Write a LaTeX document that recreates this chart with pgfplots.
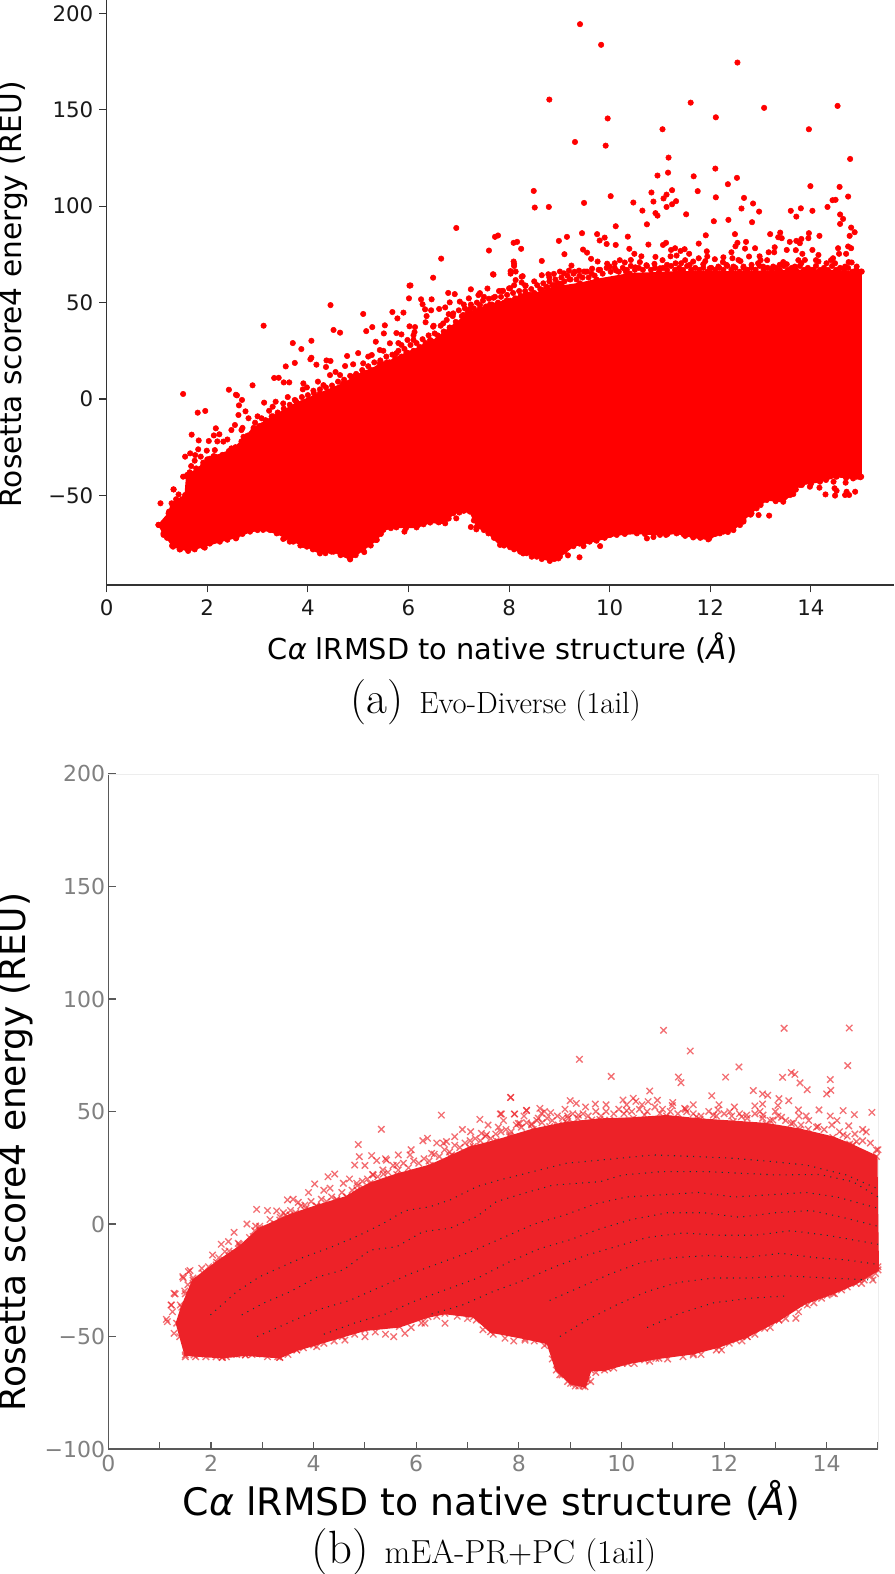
\documentclass[border=0pt]{standalone}
\usepackage{fontspec}
\usepackage{pgfplots}
\usepackage{pgfplotstable}
\pgfplotsset{compat=1.18}
\newfontfamily\dv{DejaVu Sans}
\newcommand\fz[1]{\fontsize{#1}{#1}\selectfont}
\definecolor{bred}{HTML}{ED2228}
\definecolor{bdot}{HTML}{0F3F3A}
\pgfplotstableread{
x y
1.03 -65.3
1.23 -59.3
1.29 -54.1
1.56 -49.8
1.59 -40.0
2.12 -30.0
2.52 -26.0
2.92 -15.0
3.31 -9.0
3.78 -2.0
4.24 3.0
4.70 8.0
5.10 14.0
5.57 19.0
5.96 24.0
6.43 29.0
6.82 37.0
7.22 45.0
7.62 49.0
7.95 51.0
8.42 54.0
8.90 58.0
9.41 60.0
9.74 62.0
10.40 65.0
11.40 66.0
12.72 66.0
14.05 67.0
15.00 66.0
15.00 -40.3
14.84 -41.2
14.51 -40.3
14.18 -42.9
13.78 -44.6
13.59 -49.8
13.45 -53.3
13.12 -52.4
12.92 -56.7
12.66 -62.8
12.46 -68.0
12.19 -69.7
11.96 -72.8
11.66 -71.8
11.33 -69.7
11.00 -70.5
10.54 -69.7
10.14 -70.5
9.74 -73.5
9.28 -76.3
9.01 -81.8
8.81 -84.0
8.55 -81.8
8.22 -79.2
8.02 -76.9
7.82 -75.7
7.59 -69.7
7.36 -66.2
7.22 -58.4
6.89 -59.3
6.73 -64.5
6.43 -64.1
6.16 -66.6
5.76 -66.6
5.50 -67.9
5.37 -73.1
5.10 -78.3
4.84 -83.2
4.51 -79.2
4.24 -80.1
3.98 -76.6
3.71 -74.0
3.38 -69.7
3.11 -67.9
2.85 -68.8
2.58 -71.8
2.25 -74.0
1.92 -76.6
1.62 -78.8
1.32 -76.6
1.13 -69.7
}\coreA
\pgfplotstableread{
x y
1.33 -44.1
1.43 -37.0
1.65 -25.0
2.11 -17.0
2.56 -10.0
2.95 -2.0
3.54 4.0
4.06 8.0
4.64 12.0
4.85 15.0
5.10 18.0
5.62 22.0
6.27 26.0
6.66 30.0
7.04 34.0
7.56 37.0
8.28 42.0
8.93 45.0
9.58 46.5
10.23 47.0
10.88 48.0
11.53 46.5
12.18 45.5
12.82 44.5
13.47 42.0
14.12 38.5
14.45 35.5
14.97 30.0
15.00 -20.4
14.57 -26.4
14.12 -30.8
13.57 -35.3
13.07 -42.7
12.45 -50.0
11.90 -54.5
11.40 -57.5
10.67 -59.7
10.12 -61.9
9.67 -64.9
9.40 -64.9
9.29 -72.3
9.01 -70.8
8.73 -64.9
8.56 -53.0
8.12 -50.8
7.45 -47.9
7.12 -41.2
6.56 -39.7
6.23 -41.2
5.67 -45.6
5.00 -47.1
4.56 -50.0
4.00 -53.8
3.67 -56.0
3.34 -59.3
2.67 -58.2
2.22 -59.3
1.50 -58.2
}\coreB
\begin{document}
\begin{tikzpicture}
\path[use as bounding box] (0,0) rectangle (671.25pt,1180.5pt);
% ---------- panel a
\begin{axis}[
  scale only axis, width=590.5pt, height=438.75pt,
  at={(80pt,741.75pt)}, anchor=south west, clip=false,
  xmin=0, xmax=15.652, ymin=-96.47, ymax=206.95,
  axis lines=left, axis line style={-, line width=1pt, color=black!80},
  tick align=outside, major tick length=5.5pt,
  every tick/.style={line width=0.8pt, color=black!80},
  xtick={0,2,4,6,8,10,12,14}, xticklabels={0,2,4,6,8,10,12,14},
  ytick={-50,0,50,100,150,200}, yticklabels={−50,0,50,100,150,200},
  tick label style={font=\dv\fz{16}, color=black!90},
  x tick label style={yshift=-2pt}, y tick label style={xshift=-1pt},
  xlabel={C{\itshape α} lRMSD to native structure ({\itshape Å})},
  ylabel={Rosetta score4 energy (REU)},
  xlabel style={font=\dv\fz{21.6}, at={(axis description cs:0.503,-0.108)}, anchor=center},
  ylabel style={font=\dv\fz{22.2}, at={(axis description cs:-0.119,0.497)}, anchor=center},
]
\addplot[fill=red, draw=red, line width=1pt] table[x=x,y=y] {\coreA} -- cycle;
\addplot[only marks, mark=*, mark size=2.05pt, mark options={fill=red, draw=none}, color=red] table[x=x,y=y] {\coreA};
\addplot[only marks, mark=*, mark size=2.05pt, mark options={fill=red, draw=none}, color=red] coordinates {
(9.41,194.4)(9.83,183.7)(12.54,174.5)(8.80,155.3)(11.61,153.7)(13.07,151.0)(14.53,152.0)(9.96,145.5)(12.11,146.1)(11.05,139.9)(13.96,139.9)(9.31,133.3)(9.92,131.4)(11.17,125.2)(14.78,124.5)(12.10,119.5)(11.16,117.4)(10.95,115.9)(11.67,115.5)(12.53,114.7)(12.35,111.4)(13.99,110.4)(14.57,110.0)(8.49,107.9)(11.75,107.8)(10.83,107.1)(11.24,108.3)(11.13,106.0)(11.07,104.0)(10.02,105.2)(12.11,104.6)(12.67,104.3)(14.74,105.0)(14.49,103.3)(14.43,103.1)(10.47,101.9)(10.87,102.4)(11.32,102.6)(11.24,101.0)(11.13,99.6)(9.49,101.7)(8.51,99.3)(8.79,99.6)(12.85,101.4)(12.62,98.8)(12.97,97.2)(13.80,98.9)(13.60,97.6)(13.71,94.6)(14.03,97.6)(14.33,99.6)(10.65,97.7)(10.91,96.4)(10.95,95.1)(11.52,95.8)(14.58,95.7)(14.64,93.4)(14.58,90.8)(12.07,92.2)(12.36,92.9)(12.83,91.7)(10.74,90.6)(10.12,89.6)(14.80,88.9)(14.87,86.5)(14.77,84.6)(9.45,86.0)(9.75,85.5)(10.36,84.2)(11.91,84.9)(12.49,85.5)(13.19,85.5)(13.39,86.3)(13.95,83.4)(13.96,86.0)(14.17,84.6)(7.72,84.1)(7.78,84.8)(8.09,81.0)(8.16,81.5)(9.15,84.1)(8.99,82.0)(7.60,77.0)(8.24,77.9)(9.80,82.2)(9.90,83.7)(9.94,80.4)(10.12,79.9)(10.77,80.1)(11.06,79.9)(11.12,81.0)(11.77,80.6)(12.54,81.0)(12.50,79.2)(12.71,81.5)(12.69,78.0)(12.89,78.2)(13.35,83.9)(13.42,83.4)(13.58,81.5)(13.71,82.0)(13.78,80.8)(13.81,83.0)(14.54,78.2)(14.74,79.1)(14.80,78.2)(14.03,77.3)(13.52,77.3)(13.70,77.2)(13.28,78.7)(9.47,77.5)(9.55,75.9)(9.10,75.1)(8.65,71.6)(8.09,71.3)(8.10,70.1)(10.39,77.9)(10.49,75.3)(10.42,72.1)(10.63,74.0)(10.91,73.7)(11.22,77.3)(11.30,78.2)(11.41,76.8)(11.49,77.7)(11.21,74.0)(11.33,74.4)(11.58,75.3)(11.66,71.3)(11.77,73.0)(11.93,76.6)(11.94,73.9)(12.09,72.5)(12.26,73.5)(12.42,76.1)(12.44,73.0)(12.56,72.1)(12.77,73.9)(12.98,74.0)(13.13,72.0)(13.16,76.1)(13.27,76.1)(13.83,75.3)(14.15,74.7)(14.44,73.0)(14.56,75.3)(14.70,75.3)(14.81,70.8)
(7.68,64.7)(8.03,66.3)(8.13,66.1)(8.27,63.7)(8.25,60.4)(8.32,58.8)(8.65,64.2)(8.78,64.7)(8.89,64.9)(9.01,66.1)(9.09,65.2)(9.19,66.6)(9.24,69.2)(9.20,62.1)(9.39,66.6)(9.49,66.1)(9.55,66.1)(9.65,67.6)(9.81,67.0)(9.63,72.7)(9.76,71.3)(9.95,70.2)(10.00,68.7)(10.10,70.4)(10.13,66.6)(10.30,70.8)(10.32,66.1)(10.51,68.3)(10.73,69.4)(10.89,70.1)(11.00,67.8)(11.14,69.6)(11.31,70.4)(11.42,70.4)(11.59,69.6)(11.86,69.9)(11.99,67.8)(12.16,68.7)(12.32,69.6)(12.46,68.7)(12.66,68.7)(12.82,69.6)(12.95,70.4)(13.05,68.7)(13.25,68.7)(13.38,69.6)(13.52,69.9)(13.68,68.7)(13.81,70.4)(13.88,72.1)(14.15,71.3)(14.31,70.4)(14.48,70.4)(14.68,68.7)(14.91,68.7)(15.01,66.1)
(7.57,57.3)(7.42,54.9)(7.88,56.1)(8.02,57.4)(8.23,53.5)(8.33,54.5)(8.52,53.8)(8.65,56.6)(8.76,58.0)(8.91,59.2)(9.04,59.7)
(1.52,2.6)(1.81,-7.1)(1.96,-6.2)(2.43,4.8)(2.57,2.2)(2.59,1.9)(2.69,-0.5)(2.90,7.1)(3.12,38.0)(3.13,-1.9)(2.63,-3.3)(2.76,-6.4)(2.62,-8.3)(3.36,-1.4)(3.23,-6.1)(4.45,48.7)(3.70,29.0)(3.87,25.9)(4.07,30.2)(4.07,21.4)(4.05,20.6)(3.56,16.9)(3.74,18.7)(3.33,10.9)(3.42,11.0)(3.52,8.6)(3.63,8.6)(4.51,35.8)(4.64,34.4)(5.10,44.1)(5.28,37.3)(5.16,35.2)(4.17,17.8)(4.37,20.0)(4.45,19.7)(4.36,16.6)(4.78,22.3)(5.00,23.8)(4.74,17.1)(5.35,29.7)(5.53,38.2)(5.51,34.0)(5.68,45.1)(5.78,41.8)(5.90,44.8)(6.02,37.7)(6.13,37.3)(6.12,34.7)(5.76,34.2)(5.86,33.5)(6.02,58.8)(6.04,58.9)(6.01,52.2)(6.49,62.9)(6.65,72.8)(6.25,51.7)(6.46,51.7)(6.28,49.1)(6.45,46.0)(6.33,46.5)(6.36,43.0)(6.34,39.8)(6.95,88.7)(6.79,55.0)(6.92,54.4)(7.24,56.9)(7.39,53.9)(7.02,50.5)(7.20,52.2)(6.82,50.1)(6.61,46.7)(6.73,47.5)(7.22,46.7)(7.69,52.5)(7.85,56.0)(8.00,57.4)(8.13,61.7)(8.25,63.4)(8.33,58.8)(8.34,54.4)(8.23,53.1)(8.12,52.2)(7.69,64.5)(8.10,69.0)(8.03,65.0)
(1.33,-46.9)(1.43,-49.5)(1.69,-18.5)(1.83,-21.5)(2.17,-15.2)(2.13,-18.9)(2.24,-18.3)(2.03,-21.8)(2.32,-22.1)(1.99,-26.8)(1.82,-26.1)(1.66,-28.2)(1.56,-29.9)(1.76,-29.1)(1.87,-29.9)(2.00,-31.3)(1.68,-34.8)(2.15,-26.5)(2.13,-29.6)(2.27,-29.9)(2.55,-13.5)(2.48,-16.1)(2.68,-16.1)(2.82,-10.0)(2.95,-12.3)(3.08,-10.0)(2.72,-19.6)(2.75,-23.9)(2.48,-25.6)(2.58,-27.3)(2.20,-36.0)(1.92,-34.3)(1.52,-40.3)(1.60,-39.4)(3.31,-10.0)(3.51,-2.3)(3.74,-0.5)(3.91,8.1)(3.98,6.0)(4.11,4.3)(4.31,7.2)(4.44,12.4)(4.64,12.4)(4.80,7.2)(4.87,11.6)(4.99,12.1)(5.10,18.5)(5.27,22.8)(5.43,18.5)(5.43,25.4)(5.63,28.9)(5.76,23.7)(5.86,28.0)(5.98,30.6)(6.10,30.6)(6.30,27.1)(6.43,30.6)(6.49,37.5)(6.69,39.2)(6.89,44.4)(7.09,43.6)(7.42,48.7)(7.75,48.7)(7.95,48.7)(8.28,51.3)
(9.17,-81.1)(9.40,-82.1)(9.81,-76.3)(10.74,-72.3)(10.87,-71.6)(13.17,-60.5)(12.96,-60.2)(14.69,-43.4)(14.17,-46.0)(14.29,-49.5)(14.48,-50.1)(14.51,-47.6)(14.68,-49.8)(14.76,-49.8)(14.88,-48.1)(14.71,-48.1)(14.47,-46.3)(14.98,-40.6)(12.59,-65.4)(12.66,-63.6)(11.98,-72.3)(11.12,-70.5)(9.48,-76.3)(8.45,-81.8)(8.28,-80.1)(8.98,-82.7)(10.01,-70.5)(11.47,-70.2)(11.80,-71.4)(12.26,-68.8)(12.82,-59.3)(13.65,-49.3)(13.82,-44.6)(13.98,-45.5)(14.45,-42.9)(14.91,-40.3)
(1.07,-54.1)(1.33,-46.9)(1.38,-52.0)(1.24,-58.4)(5.12,-79.4)(6.95,-61.9)(6.71,-63.1)(7.24,-66.4)(7.35,-67.6)(7.01,-58.9)(5.92,-68.8)(6.18,-65.5)(3.51,-72.6)(3.31,-66.6)(4.24,-79.2)(4.84,-82.6)(4.47,-79.2)(3.91,-75.7)(3.64,-74.0)(2.57,-72.3)(2.24,-73.1)(1.95,-77.1)(1.46,-78.0)(1.30,-76.1)(1.13,-70.5)(1.03,-65.3)(5.35,-73.1)
(1.65,-38)(1.72,-40)(1.78,-36)(1.85,-37)(1.92,-33)(1.98,-36)(2.05,-31)(2.10,-34)(2.17,-30)(2.24,-33)(2.30,-29)(2.37,-31)(2.43,-27)(2.50,-30)(2.56,-25)(2.62,-29)(2.68,-22)(2.74,-26)(2.80,-19)(2.86,-23)(2.92,-16)(2.98,-19)(3.04,-14)(3.10,-17)(3.16,-11)(3.22,-15)(3.28,-9)(3.34,-12)(3.40,-7)(3.46,-10)(3.52,-5)(3.58,-8)(3.64,-3)(3.70,-6)(3.76,-1)(3.82,-4)(3.88,1)(3.94,-2)(4.00,2)(4.06,-1)(4.12,3)(4.18,1)(4.24,5)(4.30,2)(4.36,6)(4.42,3)(4.48,7)(4.54,5)(4.60,9)(4.66,6)(4.72,10)(4.78,8)(4.84,12)(4.90,9)(4.96,13)(5.02,11)(5.08,15)(5.14,13)(5.20,17)(5.26,15)(5.32,19)(5.38,16)(5.44,20)(5.50,18)(5.56,22)(5.62,19)(5.68,23)(5.74,21)(5.80,25)(5.86,22)(5.92,26)(5.98,24)(6.04,28)(6.10,25)(6.16,29)(6.22,27)(6.28,31)(6.34,29)(6.40,33)(6.46,30)(6.52,34)(6.58,33)(6.64,38)(6.70,35)(6.76,41)(6.82,37)(6.88,43)(6.94,40)(7.00,46)(7.06,43)(7.12,47)(7.18,45)(7.24,49)(7.30,47)(7.36,50)(7.42,47)(7.48,51)(7.54,48)(7.60,52)(7.66,49)(7.72,53)(7.78,50)(7.84,53)(7.90,50)(7.96,54)(8.02,51)(8.08,55)(8.14,52)(8.20,56)(8.26,53)(8.32,56)(8.38,54)(8.44,57)(8.50,55)(8.56,59)(8.62,57)(8.68,60)(8.74,58)(8.80,61)(8.86,59)(8.92,62)(8.98,60)(9.04,63)(9.10,61)(9.16,64)(9.22,62)(9.28,65)(9.34,62)(9.40,64)(9.46,63)(9.52,66)(9.58,63)(9.64,65)(9.70,64)(9.78,67)(9.86,65)(9.94,68)(10.02,66)(10.10,68)(10.18,66)(10.26,68)(10.34,67)(10.42,69)(10.50,67)(10.58,68)(10.66,67)(10.74,69)(10.82,67)(10.90,68)(10.98,66)(11.06,68)(11.14,67)(11.22,69)(11.30,67)(11.38,68)(11.46,67)(11.54,69)(11.62,67)(11.70,68)(11.78,67)(11.86,68)(11.94,66)(12.02,68)(12.10,67)(12.18,68)(12.26,67)(12.34,69)(12.42,67)(12.50,68)(12.58,66)(12.66,68)(12.74,67)(12.82,68)(12.90,67)(12.98,69)(13.06,67)(13.14,68)(13.22,67)(13.30,68)(13.38,67)(13.46,69)(13.54,67)(13.62,68)(13.70,67)(13.78,69)(13.86,67)(13.94,68)(14.02,67)(14.10,69)(14.18,67)(14.26,68)(14.34,67)(14.42,69)(14.50,67)(14.58,68)(14.66,67)(14.74,68)(14.82,66)(14.90,67)(14.98,66)
(1.20,-72)(1.45,-78)(1.75,-78)(2.05,-75)(2.40,-73)(2.70,-70)(3.00,-68)(3.25,-68)(3.55,-72)(3.85,-76)(4.10,-78)(4.35,-80)(4.65,-81)(4.95,-81)(5.25,-76)(5.45,-70)(5.65,-67)(5.95,-67)(6.30,-65)(6.60,-64)(6.80,-62)(7.10,-58)(7.30,-63)(7.50,-68)(7.70,-72)(7.90,-76)(8.10,-78)(8.35,-80)(8.65,-83)(8.90,-83)(9.10,-79)(9.40,-75)(9.60,-74)(9.90,-72)(10.30,-70)(10.70,-70)(11.15,-70)(11.50,-71)(11.80,-72)(12.10,-70)(12.35,-69)(12.55,-65)(12.80,-60)(13.00,-55)(13.30,-53)(13.52,-50)(13.70,-47)(14.00,-44)(14.30,-42)(14.70,-41)
(1.75,-32)(2.20,-22)(2.40,-21)(2.70,-15)(3.00,-9)(3.30,-4)(3.60,1)(3.90,5)(4.20,9)(4.55,14)(4.90,18)(5.20,22)(5.50,25)(5.80,29)(6.10,33)(6.50,38)(6.80,44)(7.10,49)(7.50,53)(7.80,56)(8.10,59)(8.50,61)(8.80,63)(9.30,66)(10.20,72)(10.60,71)(11.05,72)(11.50,72)(11.90,71.5)(12.25,71)(12.60,71.5)(13.00,72)(13.45,71)(13.75,72)(14.10,72)(14.40,72)(14.75,71)
};
\node[anchor=center] at (axis description cs:0.494,-0.2) {\fz{34}(a)\hspace{12pt}{\fz{23}Evo-Diverse (1ail)}};
\end{axis}
% ---------- panel b
\begin{axis}[
  scale only axis, width=577.2pt, height=506.25pt,
  at={(81.3pt,93.75pt)}, anchor=south west, clip=false,
  xmin=0, xmax=15, ymin=-100, ymax=200,
  axis lines=left, axis line style={-, line width=1pt, color=black!65},
  tick align=inside, major tick length=5.5pt,
  every tick/.style={line width=0.8pt, color=black!65},
  xtick={0,1,2,3,4,5,6,7,8,9,10,11,12,13,14,15}, xticklabels={0,,2,,4,,6,,8,,10,,12,,14,},
  ytick={-100,-50,0,50,100,150,200}, yticklabels={−100,−50,0,50,100,150,200},
  tick label style={font=\dv\fz{16.5}, color=black!50},
  x tick label style={yshift=-1pt}, y tick label style={xshift=1pt},
  xlabel={C{\itshape α} lRMSD to native structure ({\itshape Å})},
  ylabel={Rosetta score4 energy (REU)},
  xlabel style={font=\dv\fz{28.4}, at={(axis description cs:0.498,-0.0756)}, anchor=center},
  ylabel style={font=\dv\fz{27}, at={(axis description cs:-0.121,0.44)}, anchor=center},
]
\addplot[draw=black!7, line width=0.6pt] coordinates {(0,200)(15,200)(15,-100)};
\addplot[fill=bred, draw=bred, line width=1.5pt] table[x=x,y=y] {\coreB} -- cycle;
\addplot[only marks, mark=x, mark size=3.4pt, mark options={draw=bred, opacity=0.65, line width=1pt}] table[x=x,y=y] {\coreB};
\addplot[only marks, mark=x, mark size=3.4pt, mark options={draw=bred, opacity=0.65, line width=1pt}] coordinates {
(7.84,56.2)(6.49,48.4)(7.24,46.5)(7.64,48.9)(7.92,48.9)(8.15,50.5)(7.60,43.0)(7.06,41.0)(5.32,42.1)(7.27,40.3)(7.37,39.7)(6.75,38.8)(6.13,37.0)(6.22,38.1)(6.53,35.9)(6.59,36.6)(4.87,35.3)(4.89,29.9)(4.80,26.2)(5.13,30.4)(5.23,28.2)(5.42,28.4)(5.65,30.7)(5.88,30.7)(5.62,26.2)(6.30,31.4)(6.69,30.7)(7.11,34.4)(7.60,36.6)(7.99,44.7)(7.82,38.8)(4.41,22.2)(4.28,21.0)(4.02,17.8)(4.32,15.9)(4.58,18.1)(4.84,18.1)(4.97,15.9)(5.16,21.8)(5.36,22.2)(3.49,10.7)(3.70,9.6)(3.83,8.4)(2.89,6.5)(3.28,5.8)(3.41,5.0)(3.80,4.0)(4.02,5.5)(4.25,7.7)(4.45,10.7)(4.64,5.5)(2.87,-0.9)(2.45,-3.7)(3.34,1.8)(2.82,-5.6)(2.34,-7.8)(2.53,-8.6)(2.27,-12.3)(2.03,-13.8)(2.10,-18.2)(1.59,-20.7)(1.46,-24.1)(1.49,-29.8)(1.30,-31.1)(1.23,-36.0)(1.25,-39.0)(1.13,-42.4)(1.82,-19.7)(1.91,-23.4)
(10.82,86.1)(13.17,87.0)(14.44,87.1)(11.34,76.9)(9.18,73.2)(12.29,69.8)(14.41,70.4)(9.80,65.6)(11.11,65.3)(11.16,62.8)(12.03,65.3)(13.14,65.2)(13.31,67.3)(13.38,66.5)(13.48,62.7)(13.62,59.7)(14.07,64.2)(14.08,59.4)(14.00,57.8)(10.55,59.1)(12.57,59.3)(11.76,57.0)(12.75,57.8)(12.85,57.2)(7.84,56.3)(13.07,55.7)(13.26,54.8)(10.23,55.9)(10.28,54.5)(10.03,55.1)(9.00,54.8)(9.12,53.6)(9.49,53.3)(10.52,54.4)(10.99,52.6)(12.60,52.5)(12.75,53.3)(13.05,52.7)(13.45,50.7)(13.85,50.7)(14.32,50.4)(14.88,49.6)(14.54,48.6)(14.07,48.0)(13.46,48.0)(8.15,50.5)(8.41,51.4)(8.62,49.5)(7.91,48.9)(7.66,48.9)(8.44,49.2)(8.38,47.0)(10.10,50.4)(11.23,51.4)(11.88,50.7)(12.11,49.9)(12.34,47.7)(12.44,48.4)(12.76,48.4)(13.12,47.4)(9.16,48.4)(14.43,43.6)(14.77,40.9)(14.97,32.9)(14.58,36.6)(14.51,35.1)(14.32,39.6)(13.83,43.3)(13.64,42.1)(13.31,44.7)(12.95,46.2)(10.45,48.4)(10.29,46.2)(10.75,49.2)(11.46,47.7)(11.79,48.4)(11.27,49.9)(9.77,46.2)(9.42,46.2)(8.96,47.0)(8.02,44.7)(8.25,44.5)(8.60,43.3)(8.77,44.0)(7.82,39.6)
(1.15,-43.4)(1.22,-36.0)(1.28,-30.8)(1.45,-23.4)(1.56,-21.2)(1.28,-48.6)(1.39,-50.1)(9.17,-72.0)(8.84,-67.1)(9.34,-69.3)(9.06,-70.8)(9.73,-64.1)(10.01,-61.9)(10.45,-60.4)(10.73,-59.7)(11.40,-58.2)(11.95,-56.0)(12.45,-50.1)(13.07,-42.7)(13.40,-41.9)(13.62,-36.0)(14.01,-31.6)(14.29,-29.3)(14.68,-26.4)(14.90,-24.9)(14.73,-24.9)(15.00,-19.0)(12.79,-46.4)(12.23,-51.6)(11.73,-51.6)(11.00,-56.0)(6.56,-44.1)(7.17,-42.7)(7.73,-50.8)(8.12,-51.6)(5.56,-50.1)(5.00,-50.1)(5.78,-48.6)(6.17,-44.1)(4.61,-51.6)(4.06,-54.5)(3.34,-59.3)(2.67,-58.2)(2.22,-59.3)(1.67,-58.2)(3.67,-56.0)(3.00,-57.8)(1.89,-57.8)(2.45,-57.8)
(1.40,-36)(1.50,-31)(1.55,-27)(1.65,-24)(1.75,-25)(1.85,-22)(1.95,-19)(2.05,-20)(2.15,-15)(2.25,-16)(2.35,-12)(2.45,-13)(2.55,-9)(2.65,-11)(2.75,-6)(2.85,-3)(2.95,-1)(3.05,-3)(3.15,2)(3.25,0)(3.35,3)(3.45,4)(3.55,6)(3.65,5)(3.75,8)(3.85,7)(3.95,10)(4.05,8)(4.15,11)(4.25,10)(4.35,12)(4.45,11)(4.55,14)(4.65,12)(4.75,15)(4.85,17)(4.95,19)(5.05,20)(5.15,22)(5.25,21)(5.35,24)(5.45,23)(5.55,26)(5.65,24)(5.75,27)(5.85,25)(5.95,28)(6.05,27)(6.15,29)(6.25,28)(6.35,31)(6.45,30)(6.55,33)(6.65,32)(6.75,35)(6.85,34)(6.95,36)(7.05,37)(7.15,38)(7.25,37)(7.35,39)(7.45,38)(7.55,40)(7.65,41)(7.75,42)(7.85,41)(7.95,44)(8.05,43)(8.15,45)(8.25,44)(8.35,46)(8.45,45)(8.55,47)(8.65,46)(8.75,48)(8.85,47)(8.95,48)(9.05,49)(9.15,47)(9.25,49)(9.35,48)(9.50,50)(9.60,48)(9.70,50)(9.85,49)(9.95,51)(10.05,49)(10.20,50)(10.35,51)(10.50,50)(10.65,52)(10.80,51)(10.95,50)(11.10,49)(11.25,51)(11.40,49)(11.55,48)(11.70,50)(11.85,48)(12.00,49)(12.15,48)(12.30,49)(12.45,47)(12.60,49)(12.75,47)(12.90,46)(13.05,48)(13.20,46)(13.35,45)(13.50,44)(13.65,46)(13.80,43)(13.95,42)(14.10,44)(14.25,41)(14.40,39)(14.55,40)(14.70,37)(14.85,36)(15.00,33)
(1.50,-59)(1.70,-59)(1.90,-59)(2.10,-59)(2.30,-59)(2.50,-58)(2.80,-58)(3.10,-59)(3.30,-59)(3.50,-58)(3.80,-55)(4.20,-53)(4.40,-52)(4.80,-49)(5.20,-48)(5.40,-49)(5.90,-46)(6.10,-44)(6.40,-41)(6.80,-41)(7.00,-42)(7.30,-47)(7.50,-49)(7.90,-52)(8.30,-52)(8.50,-54)(8.65,-60)(8.80,-67)(8.95,-70)(9.10,-72)(9.25,-72)(9.40,-70)(9.50,-66)(9.85,-64)(10.25,-62)(10.55,-61)(10.90,-60)(11.20,-59)(11.55,-58)(11.85,-56)(12.10,-53)(12.35,-52)(12.60,-49)(12.90,-46)(13.20,-42)(13.45,-39)(13.75,-35)(13.90,-33)(14.15,-31)(14.40,-28)(14.85,-23)(14.95,-22)
(2.20,-9)(2.70,0)(3.10,6)(3.60,11)(3.90,14)(4.20,15)(4.70,20)(5.00,26)(5.40,29)(5.90,33)(6.40,36)(6.90,42)(7.40,44)(7.70,46)(8.10,48)(8.50,50)(8.90,51)(9.30,52)(9.70,53)(10.10,53)(10.40,53)(10.70,55)(11.00,54)(11.40,53)(11.90,53)(12.20,52)(12.70,50)(13.00,50)(13.60,48)(14.20,46)(14.70,42)
};
\addplot[draw=bdot, line width=0.8pt, dash pattern=on 0.8pt off 4pt] coordinates {(1.99,-40.4)(2.50,-30.1)(2.95,-23.4)(3.41,-18.7)(3.80,-14.8)(4.32,-10.5)(4.90,-4.9)(5.36,0.3)(5.78,5.9)(6.27,7.7)(6.66,10.7)(7.18,16.6)(7.63,19.6)(8.28,23.3)(8.93,27.0)(9.77,28.8)(10.62,30.7)(11.53,29.9)(12.18,29.2)(12.82,28.0)(13.60,26.2)(14.38,21.8)(14.97,15.9)};
\addplot[draw=bdot, line width=0.8pt, dash pattern=on 0.8pt off 4pt] coordinates {(2.60,-40.4)(3.02,-35.2)(3.54,-30.1)(4.06,-23.7)(4.58,-20.4)(5.10,-11.6)(5.62,-10.1)(6.13,-3.4)(6.66,-1.9)(7.18,3.3)(7.56,9.9)(8.15,14.0)(8.67,17.3)(9.58,18.8)(10.03,21.8)(10.81,23.3)(11.65,23.3)(12.37,22.5)(13.02,21.8)(13.86,22.0)(14.51,18.8)(15.00,12.0)};
\addplot[draw=bdot, line width=0.8pt, dash pattern=on 0.8pt off 4pt] coordinates {(2.90,-50)(3.50,-44)(4.10,-38)(4.70,-34)(5.30,-28)(5.90,-22)(6.50,-17)(7.10,-12)(7.70,-6)(8.30,0)(8.90,4)(9.50,9)(10.10,12)(10.80,13)(11.50,14)(12.20,12)(12.90,13)(13.60,14)(14.20,12)(15.00,7)};
\addplot[draw=bdot, line width=0.8pt, dash pattern=on 0.8pt off 4pt] coordinates {(4.20,-49)(4.80,-44)(5.40,-40)(6.00,-34)(6.60,-29)(7.20,-24)(7.80,-17)(8.40,-11)(9.00,-7)(9.60,-2)(10.20,2)(10.90,5)(11.60,5)(12.30,3)(13.00,5)(13.70,6)(14.30,3)(15.00,-1)};
\addplot[draw=bdot, line width=0.8pt, dash pattern=on 0.8pt off 4pt] coordinates {(6.30,-40)(6.90,-36)(7.50,-30)(8.10,-25)(8.70,-19)(9.30,-14)(9.90,-10)(10.50,-6)(11.20,-4)(11.90,-5)(12.60,-5)(13.30,-3)(14.00,-5)(15.00,-9)};
\addplot[draw=bdot, line width=0.8pt, dash pattern=on 0.8pt off 4pt] coordinates {(8.60,-34)(9.20,-28)(9.80,-22)(10.40,-17)(11.00,-15)(11.70,-14)(12.40,-15)(13.10,-13)(13.80,-15)(14.40,-16)(15.00,-18)};
\addplot[draw=bdot, line width=0.8pt, dash pattern=on 0.8pt off 4pt] coordinates {(8.80,-50)(9.30,-43)(9.90,-36)(10.50,-30)(11.10,-26)(11.80,-24)(12.50,-24)(13.20,-23)(14.00,-24)(15.00,-25)};
\addplot[draw=bdot, line width=0.8pt, dash pattern=on 0.8pt off 4pt] coordinates {(10.50,-46)(11.10,-40)(11.80,-35)(12.50,-33)(13.20,-32)};
\node[anchor=center] at (axis description cs:0.488,-0.1526) {\fz{35}(b)\hspace{12pt}{\fz{25}mEA-PR+PC (1ail)}};
\end{axis}
\end{tikzpicture}
\end{document}
